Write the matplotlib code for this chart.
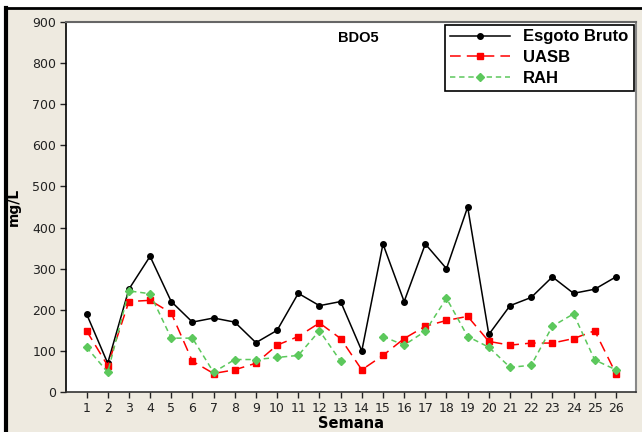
import numpy as np
import matplotlib
matplotlib.use("Agg")
import matplotlib.pyplot as plt
from matplotlib.patches import Rectangle
from matplotlib.lines import Line2D

semanas = list(range(1, 27))
esgoto_bruto = [190, 70, 250, 330, 220, 170, 180, 170, 120, 150, 240, 210, 220,
                100, 360, 220, 360, 300, 450, 140, 210, 230, 280, 240, 250, 280]
uasb = [149, 64, 220, 223, 192, 75, 45, 54, 70, 114, 135, 168, 130,
        54, 89, 130, 160, 174, 184, 123, 114, 119, 119, 130, 149, 45]
rah = [109, 48, 246, 239, 131, 131, 48, 79, 79, 84, 89, 149, 75,
       np.nan, 135, 114, 148, 228, 135, 109, 60, 65, 160, 190, 78, 54]
series_names = ["Esgoto Bruto", "UASB", "RAH"]
y_ticks = [0, 100, 200, 300, 400, 500, 600, 700, 800, 900]

W, H = 642, 432
fig = plt.figure(figsize=(W / 100, H / 100), dpi=100)
fig.patch.set_facecolor("white")

beige = "#EEEAE0"
fig.patches.append(Rectangle((6 / W, 0), 1, (H - 8) / H, transform=fig.transFigure,
                             facecolor=beige, edgecolor="none", zorder=-5))
fig.lines.append(Line2D([6 / W, 1], [(H - 8) / H] * 2, transform=fig.transFigure,
                        color="black", lw=2, zorder=-4))
fig.lines.append(Line2D([6 / W] * 2, [0, (H - 8) / H], transform=fig.transFigure,
                        color="black", lw=3, zorder=-4))

ax = fig.add_axes([66 / W, 40 / H, 570 / W, 370 / H])
ax.set_zorder(1)
ax.set_facecolor("white")

ax.plot(semanas, esgoto_bruto, color="black", lw=1.1, marker="o", ms=4,
        label=series_names[0], zorder=3)
ax.plot(semanas, uasb, color="#FF0000", lw=1.1, dashes=(7, 4), marker="s", ms=4.2,
        label=series_names[1], zorder=4)
ax.plot(semanas, rah, color="#5CC85C", lw=1.1, dashes=(3.5, 2.5), marker="D", ms=4,
        label=series_names[2], zorder=5)

ax.set_xlim(0.03, 26.95)
ax.set_ylim(0, 900)
ax.set_xticks(semanas)
ax.set_yticks(y_ticks)
ax.tick_params(direction="out", length=4, width=1, labelsize=9, colors="#222222",
               pad=3)
ax.tick_params(axis="x", pad=3)
ax.spines["left"].set_color("black")
ax.spines["left"].set_linewidth(1.2)
ax.spines["bottom"].set_color("#333333")
ax.spines["bottom"].set_linewidth(1.2)
ax.spines["top"].set_color("#666666")
ax.spines["top"].set_linewidth(1.5)
ax.spines["right"].set_color("#888888")
ax.spines["right"].set_linewidth(1.5)

ax.set_ylabel("mg/L", fontsize=10, fontweight="bold", family="DejaVu Sans", labelpad=8)
ax.set_xlabel("Semana", fontsize=10.5, fontweight="heavy", family="DejaVu Sans", labelpad=1)

fig.text(338 / W, 1 - 38 / H, "BDO5", fontsize=10.5, fontweight="bold",
         family="Liberation Sans", va="center", ha="left", zorder=10)

leg = ax.legend(loc="upper right", bbox_to_anchor=(1.0, 1.0), frameon=True,
                fancybox=False, framealpha=1, edgecolor="black", handlelength=3.6,
                borderaxespad=0.15, borderpad=0.3, labelspacing=0.35, handletextpad=0.8,
                prop={"family": "Liberation Sans", "weight": "bold", "size": 12})
leg.get_frame().set_linewidth(1.2)

fig.savefig("out.png", dpi=100, facecolor=fig.get_facecolor())
